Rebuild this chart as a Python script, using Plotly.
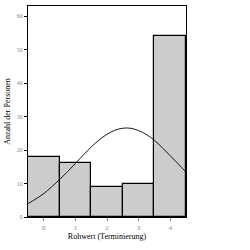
import plotly.graph_objects as go

categories = [0, 1, 2, 3, 4]
counts = [18, 16, 9, 10, 54]

curve_x = [-0.5, -0.25, 0, 0.25, 0.5, 0.75, 1, 1.25, 1.5, 1.75, 2, 2.25, 2.5,
           2.75, 3, 3.25, 3.5, 3.75, 4, 4.25, 4.5]
curve_y = [4.0, 5.4, 7.0, 9.0, 11.2, 13.5, 16.0, 18.5, 20.9, 23.0, 24.7, 25.9, 26.5,
           26.5, 25.8, 24.6, 22.9, 20.7, 18.3, 15.9, 13.4]

y_ticks = [0, 10, 20, 30, 40, 50, 60]

fig = go.Figure()
fig.add_trace(go.Bar(x=categories, y=counts, width=1.0,
                     marker=dict(color="#cccccc", line=dict(color="black", width=1.2)),
                     showlegend=False))
fig.add_trace(go.Scatter(x=curve_x, y=curve_y, mode="lines",
                         line=dict(color="black", width=0.9, shape="spline"),
                         showlegend=False))

font_family = "Liberation Serif"
fig.update_layout(
    width=250, height=250,
    margin=dict(l=28, r=64, t=6, b=33),
    plot_bgcolor="white", paper_bgcolor="white",
    bargap=0,
    font=dict(family=font_family, size=7, color="black"),
)
fig.update_xaxes(range=[-0.5, 4.5], tickvals=categories, ticktext=[str(c) for c in categories],
                 showgrid=False, zeroline=False, showline=True, linecolor="black", linewidth=1.2,
                 mirror=True, ticks="outside", ticklen=3, tickcolor="#888888",
                 tickfont=dict(family=font_family, size=7, color="#888888"),
                 title=dict(text="Rohwert (Terminierung)", font=dict(family=font_family, size=8, color="black"),
                            standoff=2))
fig.update_yaxes(range=[0, 63], tickvals=y_ticks,
                 showgrid=False, zeroline=False, showline=True, linecolor="black", linewidth=1.2,
                 mirror=True, ticks="outside", ticklen=3, tickcolor="black",
                 tickfont=dict(family=font_family, size=6, color="#888888"),
                 title=dict(text="Anzahl der Personen", font=dict(family=font_family, size=8, color="black"),
                            standoff=4))

fig.write_html("out.html")
